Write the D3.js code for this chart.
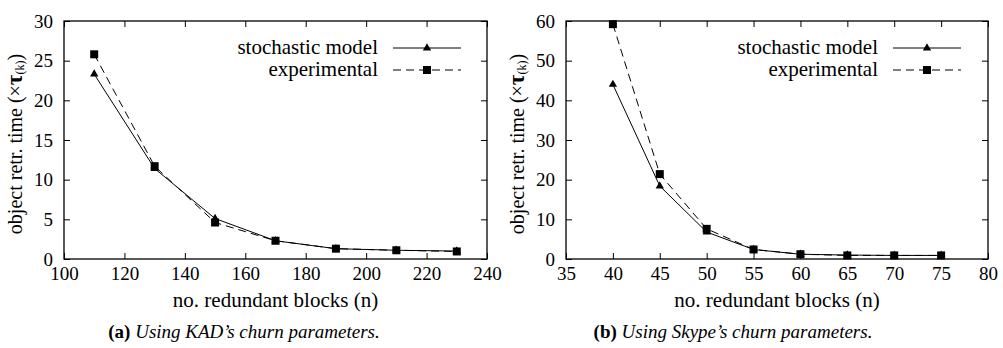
<!DOCTYPE html>
<html>
<head>
<meta charset="utf-8">
<script src="https://cdn.jsdelivr.net/npm/d3@7"></script>
<style>
  body { margin: 0; background: #fff; }
  svg { display: block; }
</style>
</head>
<body>
<div id="chart"></div>
<script>
const WIDTH = 1003;
const HEIGHT = 348;

// panel (a): KAD churn parameters
const kadBlocks = [110, 130, 150, 170, 190, 210, 230];
const kadModel = [23.3, 11.4, 5.1, 2.3, 1.3, 1.1, 1.0];
const kadExperimental = [25.8, 11.7, 4.6, 2.3, 1.3, 1.1, 0.95];
const kadXTicks = [100, 120, 140, 160, 180, 200, 220, 240];
const kadYTicks = [0, 5, 10, 15, 20, 25, 30];

// panel (b): Skype churn parameters
const skypeBlocks = [40, 45, 50, 55, 60, 65, 70, 75];
const skypeModel = [44.0, 18.4, 6.8, 2.4, 1.2, 1.0, 0.9, 0.9];
const skypeExperimental = [59.2, 21.4, 7.6, 2.4, 1.2, 0.9, 0.9, 0.9];
const skypeXTicks = [35, 40, 45, 50, 55, 60, 65, 70, 75, 80];
const skypeYTicks = [0, 10, 20, 30, 40, 50, 60];

const seriesNames = ["stochastic model", "experimental"];
const captions = ["(a)", "(b)"];
const captionTexts = [" Using KAD\u2019s churn parameters.", " Using Skype\u2019s churn parameters."];

const SERIF = "'Liberation Serif', 'Times New Roman', serif";

const svg = d3.select("#chart")
    .append("svg")
    .attr("width", WIDTH)
    .attr("height", HEIGHT);

const triangle = d3.symbol().type(d3.symbolTriangle).size(30);
const square = d3.symbol().type(d3.symbolSquare).size(64);

function drawPanel(opts) {
    const x = d3.scaleLinear().domain(opts.xDomain).range([opts.left, opts.right]);
    const y = d3.scaleLinear().domain(opts.yDomain).range([opts.bottom, opts.top]);
    const g = svg.append("g");

    // bottom axis, ticks pointing inward
    const xAxis = g.append("g")
        .attr("transform", `translate(0,${opts.bottom})`)
        .call(d3.axisBottom(x).tickValues(opts.xTicks).tickSizeInner(-6).tickSizeOuter(0).tickPadding(8));
    // mirrored ticks on top / right
    const xTop = g.append("g")
        .attr("transform", `translate(0,${opts.top})`)
        .call(d3.axisTop(x).tickValues(opts.xTicks).tickSizeInner(-6).tickSizeOuter(0).tickFormat(""));
    const yAxis = g.append("g")
        .attr("transform", `translate(${opts.left},0)`)
        .call(d3.axisLeft(y).tickValues(opts.yTicks).tickSizeInner(-6).tickSizeOuter(0).tickPadding(11));
    const yRight = g.append("g")
        .attr("transform", `translate(${opts.right},0)`)
        .call(d3.axisRight(y).tickValues(opts.yTicks).tickSizeInner(-6).tickSizeOuter(0).tickFormat(""));

    [xAxis, xTop, yAxis, yRight].forEach(a => {
        a.select(".domain").remove();
        a.selectAll("line").attr("stroke", "#000").attr("stroke-width", 1);
    });
    xAxis.selectAll("text").style("font-family", SERIF).style("font-size", "19px").attr("fill", "#000");
    yAxis.selectAll("text").style("font-family", SERIF).style("font-size", "19px").attr("fill", "#000");

    // frame
    g.append("rect")
        .attr("x", opts.left).attr("y", opts.top)
        .attr("width", opts.right - opts.left).attr("height", opts.bottom - opts.top)
        .attr("fill", "none").attr("stroke", "#000").attr("stroke-width", 1.3);

    const line = d3.line().x(d => x(d[0])).y(d => y(d[1]));
    const model = opts.blocks.map((b, i) => [b, opts.model[i]]);
    const exper = opts.blocks.map((b, i) => [b, opts.exper[i]]);

    g.append("path").datum(model).attr("d", line)
        .attr("fill", "none").attr("stroke", "#000").attr("stroke-width", 1);
    g.append("path").datum(exper).attr("d", line)
        .attr("fill", "none").attr("stroke", "#000").attr("stroke-width", 1)
        .attr("stroke-dasharray", "8,5");

    g.selectAll(".tri").data(model).enter().append("path")
        .attr("d", triangle)
        .attr("transform", d => `translate(${x(d[0])},${y(d[1])})`)
        .attr("fill", "#000");
    g.selectAll(".sq").data(exper).enter().append("path")
        .attr("d", square)
        .attr("transform", d => `translate(${x(d[0])},${y(d[1])})`)
        .attr("fill", "#000");

    // axis titles
    g.append("text")
        .attr("x", (opts.left + opts.right) / 2).attr("y", 307)
        .attr("text-anchor", "middle")
        .style("font-family", SERIF).style("font-size", "21px")
        .text("no. redundant blocks (n)");

    const yl = g.append("text")
        .attr("transform", `translate(${opts.left - 42},${(opts.top + opts.bottom) / 2 + 4}) rotate(-90)`)
        .attr("text-anchor", "middle")
        .style("font-family", SERIF).style("font-size", "20px");
    yl.append("tspan").text("object retr. time (\u00d7");
    yl.append("tspan").text("\u03c4").style("font-weight", "bold").style("font-size", "23px");
    yl.append("tspan").text("(k)").style("font-size", "12px").attr("dy", 2);
    yl.append("tspan").text(")").attr("dy", -2);

    // legend
    const lg = g.append("g");
    const rows = [
        { name: seriesNames[0], dash: null, sym: triangle, ly: 48 },
        { name: seriesNames[1], dash: "8,5", sym: square, ly: 70 }
    ];
    rows.forEach(r => {
        lg.append("text")
            .attr("x", opts.legendX).attr("y", r.ly + 6)
            .attr("text-anchor", "end")
            .style("font-family", SERIF).style("font-size", "21px")
            .text(r.name);
        lg.append("line")
            .attr("x1", opts.legendX + 15).attr("x2", opts.legendX + 83)
            .attr("y1", r.ly).attr("y2", r.ly)
            .attr("stroke", "#000").attr("stroke-width", 1)
            .attr("stroke-dasharray", r.dash);
        lg.append("path").attr("d", r.sym)
            .attr("transform", `translate(${opts.legendX + 49},${r.ly})`)
            .attr("fill", "#000");
    });

    // caption
    const cap = g.append("text")
        .attr("x", opts.captionX).attr("y", 338)
        .attr("text-anchor", "middle")
        .style("font-family", SERIF)
        .style("font-size", "19px");
    cap.append("tspan").text(opts.caption).style("font-weight", "bold");
    cap.append("tspan").text(opts.captionText).style("font-style", "italic");
}

drawPanel({
    left: 64, right: 487, top: 21, bottom: 259,
    xDomain: [100, 240], yDomain: [0, 30],
    xTicks: kadXTicks, yTicks: kadYTicks,
    blocks: kadBlocks, model: kadModel, exper: kadExperimental,
    legendX: 378, captionX: 244,
    caption: captions[0], captionText: captionTexts[0]
});

drawPanel({
    left: 566, right: 988, top: 21, bottom: 259,
    xDomain: [35, 80], yDomain: [0, 60],
    xTicks: skypeXTicks, yTicks: skypeYTicks,
    blocks: skypeBlocks, model: skypeModel, exper: skypeExperimental,
    legendX: 878, captionX: 733,
    caption: captions[1], captionText: captionTexts[1]
});
</script>
</body>
</html>
